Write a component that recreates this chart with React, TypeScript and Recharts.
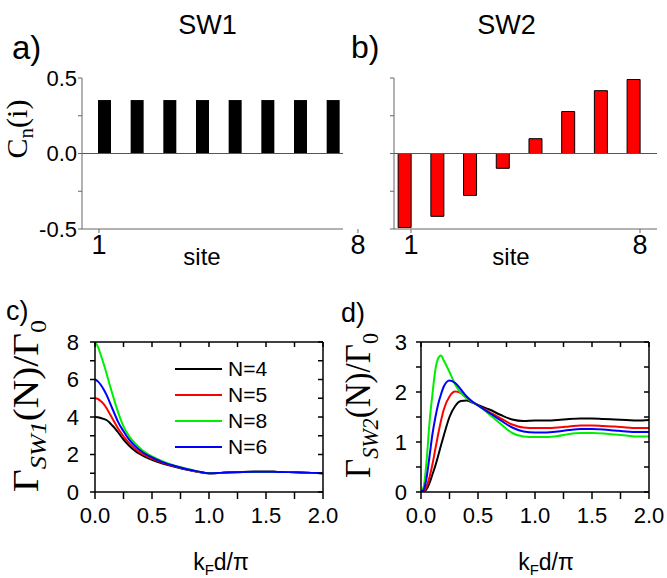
import React from 'react'
import {
  BarChart, Bar, ComposedChart, Line, XAxis, YAxis, ReferenceLine, Label, Legend,
} from 'recharts'

// amplitudes of the two standing waves on the 8 sites
const SITES = [1, 2, 3, 4, 5, 6, 7, 8]
const SW1_AMP = [0.354, 0.354, 0.354, 0.354, 0.354, 0.354, 0.354, 0.354]
const SW2_AMP = [-0.49, -0.416, -0.278, -0.098, 0.098, 0.278, 0.416, 0.49]
const SITE_TICKS = [1, 8]
const AMP_TICKS = [-0.5, -0.25, 0, 0.25, 0.5]

// decay rates vs kF d / pi
const KD = [0, 0.025, 0.05, 0.075, 0.1, 0.125, 0.15, 0.175, 0.2, 0.25, 0.3, 0.35, 0.4, 0.45, 0.5,
  0.6, 0.7, 0.8, 0.9, 1.0, 1.1, 1.2, 1.3, 1.4, 1.5, 1.6, 1.7, 1.8, 1.9, 2.0]

const SW1_N4 = [4.0, 3.99, 3.95, 3.9, 3.84, 3.72, 3.56, 3.39, 3.2, 2.8, 2.47, 2.2, 2.0, 1.85, 1.72,
  1.51, 1.35, 1.2, 1.08, 1.0, 1.02, 1.05, 1.07, 1.08, 1.08, 1.07, 1.06, 1.04, 1.02, 1.0]
const SW1_N5 = [5.0, 4.96, 4.85, 4.7, 4.48, 4.22, 3.95, 3.68, 3.41, 2.97, 2.61, 2.32, 2.08, 1.92, 1.78,
  1.55, 1.37, 1.21, 1.08, 1.0, 1.02, 1.05, 1.07, 1.08, 1.08, 1.07, 1.06, 1.04, 1.02, 1.0]
const SW1_N8 = [8.0, 7.75, 7.32, 6.85, 6.35, 5.8, 5.28, 4.78, 4.3, 3.5, 2.97, 2.6, 2.31, 2.08, 1.9,
  1.62, 1.4, 1.24, 1.1, 1.0, 1.02, 1.05, 1.07, 1.08, 1.08, 1.07, 1.06, 1.04, 1.02, 1.0]
const SW1_N6 = [6.0, 5.9, 5.72, 5.48, 5.19, 4.85, 4.48, 4.12, 3.77, 3.24, 2.79, 2.46, 2.2, 2.0, 1.85,
  1.58, 1.39, 1.23, 1.1, 1.0, 1.02, 1.05, 1.07, 1.08, 1.08, 1.07, 1.06, 1.04, 1.02, 1.0]

const SW2_N4 = [0, 0.01, 0.06, 0.18, 0.35, 0.52, 0.72, 0.93, 1.13, 1.5, 1.72, 1.82, 1.83, 1.79, 1.74,
  1.65, 1.54, 1.45, 1.42, 1.43, 1.43, 1.44, 1.46, 1.47, 1.47, 1.46, 1.45, 1.44, 1.43, 1.44]
const SW2_N5 = [0, 0.02, 0.12, 0.3, 0.55, 0.85, 1.15, 1.42, 1.65, 1.91, 2.01, 1.98, 1.88, 1.8, 1.73,
  1.6, 1.47, 1.35, 1.29, 1.28, 1.28, 1.29, 1.31, 1.33, 1.33, 1.32, 1.31, 1.29, 1.28, 1.28]
const SW2_N8 = [0, 0.12, 0.65, 1.4, 1.95, 2.43, 2.67, 2.73, 2.63, 2.4, 2.15, 1.98, 1.88, 1.8, 1.73,
  1.55, 1.36, 1.18, 1.11, 1.1, 1.1, 1.12, 1.16, 1.18, 1.18, 1.17, 1.15, 1.13, 1.11, 1.11]
const SW2_N6 = [0, 0.05, 0.3, 0.72, 1.15, 1.48, 1.75, 1.95, 2.11, 2.23, 2.18, 2.05, 1.91, 1.81, 1.73,
  1.58, 1.43, 1.29, 1.21, 1.19, 1.19, 1.21, 1.24, 1.26, 1.26, 1.25, 1.23, 1.21, 1.2, 1.2]

const KD_TICKS = [0, 0.25, 0.5, 0.75, 1, 1.25, 1.5, 1.75, 2]
const G1_TICKS = [0, 1, 2, 3, 4, 5, 6, 7, 8]
const G2_TICKS = [0, 0.5, 1, 1.5, 2, 2.5, 3]

const SERIES = [
  { key: 'n4', name: 'N=4', color: '#000000' },
  { key: 'n5', name: 'N=5', color: '#ff0000' },
  { key: 'n8', name: 'N=8', color: '#00ee00' },
  { key: 'n6', name: 'N=6', color: '#0000ff' },
]

const SANS = '"Liberation Sans", Arial, sans-serif'
const SERIF = '"Liberation Serif", "Times New Roman", serif'

// plot box of panels c/d
const PLOT_W = 228
const PLOT_H = 150
const PLOT_TOP = 52
const X_TICK = 7
const X_GAP = 8
const Y_TICK = 5

const sw1Bars = SITES.map((s, i) => ({ site: s, c: SW1_AMP[i] }))
const sw2Bars = SITES.map((s, i) => ({ site: s, c: SW2_AMP[i] }))
const sw1Rates = KD.map((x, i) => ({ x, n4: SW1_N4[i], n5: SW1_N5[i], n8: SW1_N8[i], n6: SW1_N6[i] }))
const sw2Rates = KD.map((x, i) => ({ x, n4: SW2_N4[i], n5: SW2_N5[i], n8: SW2_N8[i], n6: SW2_N6[i] }))

const fmtAmp = (v: number) => (Math.abs(v) === 0.25 ? '' : v.toFixed(1))
const fmtKd = (v: number) => (Math.round(v * 4) % 2 === 0 ? v.toFixed(1) : '')
const fmtG1 = (v: number) => (v % 2 === 0 ? String(v) : '')
const fmtG2 = (v: number) => (Number.isInteger(v) ? String(v) : '')
const noText = () => ''

// bottom tick label + the matching inward tick on the top edge of the box
function KdTick({ x, y, payload }: any) {
  const top = y - X_TICK - X_GAP - PLOT_H
  return (
    <g>
      <path d={`M${x},${top}v5`} stroke="#000" strokeWidth={1.5} fill="none" />
      <text x={x} y={y} dy="0.71em" textAnchor="middle" fontSize={22} fill="#000">{fmtKd(payload.value)}</text>
    </g>
  )
}

// left tick label + the matching inward tick on the right edge of the box
const rateYTick = (fmt: (v: number) => string, gap: number) => ({ x, y, payload }: any) => {
  const right = x + Y_TICK + gap + PLOT_W
  return (
    <g>
      <path d={`M${right},${y}h-5`} stroke="#000" strokeWidth={1.5} fill="none" />
      <text x={x} y={y} dy="0.355em" textAnchor="end" fontSize={22} fill="#000">{fmt(payload.value)}</text>
    </g>
  )
}

const siteTitle = (cx: number) => () => (
  <text x={cx} y={265} textAnchor="middle" fontSize={24} fontFamily={SANS} fill="#000">site</text>
)

const cnTitle = () => (
  <text x={27} y={129} transform="rotate(-90 27 129)" textAnchor="middle" fontFamily={SERIF} fontSize={30} fill="#000">
    C<tspan fontSize={21} dy={6}>n</tspan><tspan dy={-6}>(i)</tspan>
  </text>
)

const gammaTitle = (sw: string, bx: number, cy: number, len: number) => () => (
  <text x={bx} y={cy} transform={`rotate(-90 ${bx} ${cy})`} textAnchor="middle" fontFamily={SERIF}
    fontSize={36} fill="#000" textLength={len} lengthAdjust="spacingAndGlyphs">
    Γ<tspan fontSize={24} fontStyle="italic" dy={8}>{sw}</tspan><tspan dy={-8}>(N)/Γ</tspan>
    <tspan fontSize={24} dy={8}>0</tspan>
  </text>
)

const kdTitle = (cx: number) => () => (
  <text x={cx} y={280} textAnchor="middle" fontFamily={SANS} fontSize={23} fill="#000">
    k<tspan fontSize={15} dy={5}>F</tspan><tspan dy={-5}>d/π</tspan>
  </text>
)

function LegendBox({ payload }: any) {
  const order = SERIES.map((s) => s.name)
  const items = [...(payload ?? [])].sort((a: any, b: any) => order.indexOf(a.value) - order.indexOf(b.value))
  return (
    <div style={{ fontFamily: SANS, fontSize: 21, lineHeight: '26px' }}>
      {items.map((p: any) => (
        <div key={p.value} style={{ display: 'flex', alignItems: 'center', height: 26 }}>
          <svg width={53} height={4} style={{ display: 'block' }}>
            <line x1={0} x2={47} y1={2} y2={2} stroke={p.color} strokeWidth={2} />
          </svg>
          <span>{p.value}</span>
        </div>
      ))}
    </div>
  )
}

function RatePanel({ data, left, width, yWidth, yMax, yTicks, yFmt, yGap, titleSw, titleX, titleY, titleLen, kdX, legend }: any) {
  return (
    <div style={{ position: 'absolute', left, top: 290 }}>
      <ComposedChart width={width} height={288} data={data}
        margin={{ top: PLOT_TOP, right: width - yWidth - PLOT_W, bottom: 0, left: 0 }}>
        <XAxis dataKey="x" type="number" domain={[0, 2]} ticks={KD_TICKS} interval={0} allowDataOverflow
          height={288 - PLOT_TOP - PLOT_H} tickSize={X_TICK} tickMargin={X_GAP} stroke="#000"
          axisLine={{ stroke: '#000', strokeWidth: 1.5 }} tickLine={{ stroke: '#000', strokeWidth: 1.5 }}
          tick={KdTick}>
          <Label content={kdTitle(kdX)} />
        </XAxis>
        <YAxis type="number" domain={[0, yMax]} ticks={yTicks} interval={0} allowDataOverflow width={yWidth}
          tickSize={Y_TICK} tickMargin={yGap} stroke="#000"
          axisLine={{ stroke: '#000', strokeWidth: 1.5 }} tickLine={{ stroke: '#000', strokeWidth: 1.5 }}
          tick={rateYTick(yFmt, yGap)}>
          <Label content={gammaTitle(titleSw, titleX, titleY, titleLen)} />
        </YAxis>
        {legend && (
          <Legend layout="vertical" align="center" verticalAlign="middle" content={<LegendBox />}
            wrapperStyle={{ left: 175, top: 66, width: 110 }} />
        )}
        {SERIES.map((s) => (
          <Line key={s.key} dataKey={s.key} name={s.name} type="monotone" stroke={s.color} strokeWidth={2}
            dot={false} activeDot={false} isAnimationActive={false} />
        ))}
        <ReferenceLine y={yMax} stroke="#000" strokeWidth={1.5} ifOverflow="visible" />
        <ReferenceLine x={2} stroke="#000" strokeWidth={1.5} ifOverflow="visible" />
      </ComposedChart>
    </div>
  )
}

export default function App() {
  return (
    <div style={{ position: 'absolute', left: 0, top: 0, width: 667, height: 578, background: '#fff', fontFamily: SANS }}>
      {/* a) SW1 */}
      <div style={{ position: 'absolute', left: 0, top: 0 }}>
        <BarChart width={380} height={280} data={sw1Bars} margin={{ top: 78, right: 37, bottom: 0, left: 0 }}>
          <XAxis xAxisId="sites" dataKey="site" type="number" domain={[0.5405, 7.5946]} ticks={SITE_TICKS}
            interval={0} allowDataOverflow height={51} tickSize={4} tickMargin={2} stroke="#666"
            tick={{ fill: '#000', fontSize: 27 }}>
            <Label content={siteTitle(202)} />
          </XAxis>
          <XAxis xAxisId="bars" dataKey="site" type="number" domain={[0.317, 8.306]} allowDataOverflow
            height={0} hide />
          <YAxis type="number" domain={[-0.5, 0.5]} ticks={AMP_TICKS} interval={0} allowDataOverflow width={82}
            tickSize={4} tickMargin={1} tickFormatter={fmtAmp} stroke="#666" tick={{ fill: '#000', fontSize: 22 }}>
            <Label content={cnTitle} />
          </YAxis>
          <ReferenceLine y={0} xAxisId="bars" stroke="#555" />
          <Bar xAxisId="bars" dataKey="c" fill="#000" barSize={13} isAnimationActive={false} />
        </BarChart>
      </div>

      {/* b) SW2 */}
      <div style={{ position: 'absolute', left: 340, top: 0 }}>
        <BarChart width={327} height={280} data={sw2Bars} margin={{ top: 78, right: 10, bottom: 0, left: 0 }}>
          <XAxis xAxisId="sites" dataKey="site" type="number" domain={[0.48, 8.52]} ticks={SITE_TICKS}
            interval={0} allowDataOverflow height={51} tickSize={4} tickMargin={2} stroke="#666"
            tick={{ fill: '#000', fontSize: 27 }}>
            <Label content={siteTitle(171)} />
          </XAxis>
          <XAxis xAxisId="bars" dataKey="site" type="number" domain={[0.679, 8.72]} allowDataOverflow
            height={0} hide />
          <YAxis type="number" domain={[-0.5, 0.5]} ticks={AMP_TICKS} interval={0} allowDataOverflow width={54}
            tickSize={4} tickFormatter={noText} stroke="#666" />
          <ReferenceLine y={0} xAxisId="bars" stroke="#555" />
          <Bar xAxisId="bars" dataKey="c" fill="#ff0000" stroke="#000" strokeWidth={1} barSize={13}
            isAnimationActive={false} />
        </BarChart>
      </div>

      {/* c) and d) */}
      <RatePanel data={sw1Rates} left={0} width={340} yWidth={95} yMax={8} yTicks={G1_TICKS} yFmt={fmtG1}
        yGap={11} titleSw="SW1" titleX={38} titleY={116} titleLen={172} kdX={221} legend />
      <RatePanel data={sw2Rates} left={330} width={337} yWidth={91} yMax={3} yTicks={G2_TICKS} yFmt={fmtG2}
        yGap={9} titleSw="SW2" titleX={40} titleY={115.5} titleLen={145} kdX={216} legend={false} />

      {/* titles and panel letters */}
      <svg width={667} height={578} style={{ position: 'absolute', left: 0, top: 0, pointerEvents: 'none' }}
        fontFamily={SANS} fill="#000">
        <text x={207.5} y={34} textAnchor="middle" fontSize={27}>SW1</text>
        <text x={506.5} y={33.5} textAnchor="middle" fontSize={27}>SW2</text>
        <text x={12} y={59} fontSize={33}>a)</text>
        <text x={351} y={58} fontSize={32}>b)</text>
        <text x={6} y={320} fontSize={27}>c)</text>
        <text x={341} y={322} fontSize={27}>d)</text>
      </svg>
    </div>
  )
}
